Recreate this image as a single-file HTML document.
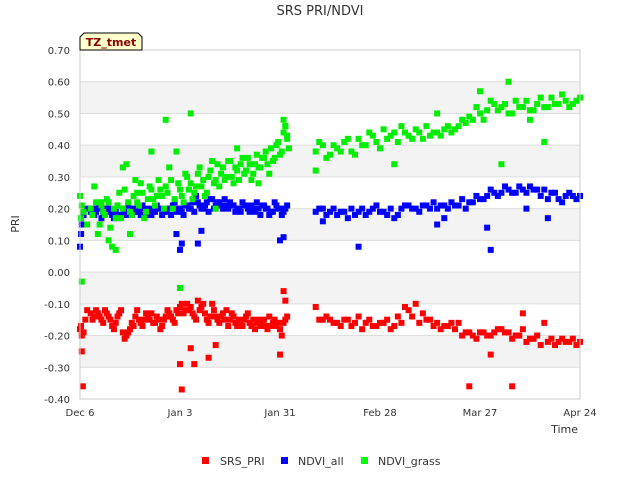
<!DOCTYPE html>
<html><head><meta charset="utf-8"><style>
body{margin:0;background:#fff;font-family:"Liberation Sans","DejaVu Sans",sans-serif;}
svg text{font-family:"DejaVu Sans","Liberation Sans",sans-serif;}
</style></head><body>
<svg id="chart" width="640" height="480" xmlns="http://www.w3.org/2000/svg">
<rect width="640" height="480" fill="#fff"/>
<g id="bands"></g><g id="grid"></g><g id="marks"></g><g id="axes"></g>
<text x="320" y="15" text-anchor="middle" font-size="13" fill="#333">SRS PRI/NDVI</text>
<text x="19" y="224" text-anchor="middle" font-size="11" fill="#333" transform="rotate(-90 19 224)">PRI</text>
<text x="578" y="433" text-anchor="end" font-size="11" fill="#333">Time</text>
<g>
<polygon points="84,33 138,33 142,37 142,50 80,50 80,37" fill="#ffffcc" stroke="#000" stroke-width="1"/>
<text x="111" y="46" text-anchor="middle" font-size="11" font-weight="bold" fill="#8b0000">TZ_tmet</text>
</g>
<g>
<g><rect x="202" y="457" width="7" height="7" fill="#f00"/><text x="220" y="465" font-size="11" fill="#333">SRS_PRI</text></g>
<g><rect x="281" y="457" width="7" height="7" fill="#00f"/><text x="298" y="465" font-size="11" fill="#333">NDVI_all</text></g>
<g><rect x="361" y="457" width="7" height="7" fill="#0f0"/><text x="378" y="465" font-size="11" fill="#333">NDVI_grass</text></g>
</g>
</svg>
<script>
const yTicks=[0.7,0.6,0.5,0.4,0.3,0.2,0.1,0,-0.1,-0.2,-0.3,-0.4];
const yTickLabels=["0.70","0.60","0.50","0.40","0.30","0.20","0.10","0.00","-0.10","-0.20","-0.30","-0.40"];
const xTickDays=[0,28,56,84,112,140];
const xTickLabels=["Dec 6","Jan 3","Jan 31","Feb 28","Mar 27","Apr 24"];
const priDays=[0,0.3,0.5,1,1.5,2,3,4,5,6,7,8,9,10,11,12,13,14,15,16,17,18,19,20,21,22,23,24,25,26,27,28,29,30,31,32,33,34,35,36,37,38,39,40,41,42,43,44,45,46,47,48,49,50,51,52,53,54,55,56,57,58,66,68,70,72,74,76,78,80,82,84,86,88,90,92,94,96,98,100,102,104,106,108,110,112,114,116,118,120,122,124,126,128,130,132,134,136,138,140,0.5,0.8,28,28.5,32,36,38,31,56,57,57.5,109,121,115,124];
const priVals=[-0.18,-0.17,-0.20,-0.19,-0.15,-0.12,-0.13,-0.14,-0.13,-0.15,-0.12,-0.14,-0.17,-0.16,-0.13,-0.19,-0.20,-0.18,-0.17,-0.12,-0.16,-0.15,-0.14,-0.13,-0.16,-0.15,-0.17,-0.14,-0.13,-0.15,-0.12,-0.11,-0.13,-0.10,-0.11,-0.14,-0.09,-0.11,-0.13,-0.16,-0.10,-0.14,-0.16,-0.13,-0.12,-0.15,-0.14,-0.17,-0.16,-0.15,-0.13,-0.17,-0.18,-0.15,-0.16,-0.17,-0.14,-0.16,-0.17,-0.18,-0.16,-0.14,-0.11,-0.15,-0.15,-0.16,-0.15,-0.17,-0.14,-0.16,-0.17,-0.16,-0.15,-0.17,-0.16,-0.12,-0.10,-0.13,-0.15,-0.16,-0.17,-0.16,-0.16,-0.19,-0.20,-0.19,-0.20,-0.19,-0.18,-0.19,-0.20,-0.18,-0.21,-0.20,-0.16,-0.21,-0.22,-0.22,-0.21,-0.22,-0.25,-0.36,-0.29,-0.37,-0.29,-0.27,-0.23,-0.24,-0.26,-0.06,-0.09,-0.36,-0.36,-0.26,-0.13];
const allDays=[0,0.3,0.5,1,2,3,4,5,6,7,8,9,10,11,12,13,14,15,16,17,18,19,20,21,22,23,24,25,26,27,28,29,30,31,32,33,34,35,36,37,38,39,40,41,42,43,44,45,46,47,48,49,50,51,52,53,54,55,56,57,58,66,68,70,72,74,76,78,80,82,84,86,88,90,92,94,96,98,100,102,104,106,108,110,112,114,116,118,120,122,124,126,128,130,132,134,136,138,140,28,28.5,27,33,34,56,57,78,115,114,102,131,125,68,100];
const allVals=[0.08,0.12,0.15,0.18,0.20,0.19,0.18,0.20,0.17,0.19,0.20,0.18,0.19,0.17,0.20,0.18,0.19,0.20,0.19,0.18,0.20,0.19,0.18,0.19,0.20,0.18,0.19,0.20,0.21,0.19,0.20,0.18,0.21,0.20,0.19,0.22,0.20,0.21,0.19,0.23,0.21,0.22,0.20,0.21,0.22,0.21,0.20,0.19,0.21,0.20,0.21,0.19,0.20,0.21,0.20,0.18,0.19,0.21,0.20,0.19,0.21,0.19,0.20,0.19,0.18,0.19,0.20,0.19,0.18,0.20,0.19,0.18,0.17,0.20,0.21,0.20,0.21,0.20,0.20,0.21,0.22,0.21,0.20,0.22,0.23,0.24,0.25,0.25,0.26,0.25,0.26,0.27,0.26,0.26,0.25,0.23,0.24,0.24,0.24,0.07,0.09,0.12,0.09,0.13,0.10,0.11,0.08,0.07,0.14,0.17,0.17,0.20,0.16,0.15];
const grassDays=[0,0.3,0.5,1,2,3,4,5,6,7,8,9,10,11,12,13,14,15,16,17,18,19,20,21,22,23,24,25,26,27,28,29,30,31,32,33,34,35,36,37,38,39,40,41,42,43,44,45,46,47,48,49,50,51,52,53,54,55,56,57,58,66,68,70,72,74,76,78,80,82,84,86,88,90,92,94,96,98,100,102,104,106,108,110,112,114,116,118,120,122,124,126,128,130,132,134,136,138,140,0.5,28,31,24,12,10,20,44,57,57.5,58,58.5,118,120,88,66,130,126,112,8,14,38,50,6,16,100];
const grassVals=[0.24,0.17,0.21,0.19,0.15,0.20,0.27,0.12,0.21,0.18,0.22,0.08,0.17,0.25,0.20,0.34,0.19,0.24,0.22,0.28,0.17,0.23,0.26,0.21,0.29,0.24,0.27,0.33,0.20,0.38,0.26,0.22,0.30,0.28,0.25,0.31,0.27,0.24,0.30,0.35,0.29,0.27,0.33,0.30,0.35,0.28,0.32,0.34,0.31,0.36,0.29,0.34,0.33,0.36,0.38,0.31,0.35,0.40,0.37,0.44,0.42,0.38,0.40,0.37,0.39,0.41,0.38,0.42,0.40,0.43,0.39,0.42,0.44,0.46,0.43,0.45,0.42,0.43,0.44,0.45,0.44,0.46,0.47,0.48,0.50,0.51,0.53,0.52,0.50,0.54,0.52,0.51,0.53,0.52,0.55,0.53,0.54,0.53,0.55,-0.03,-0.05,0.50,0.48,0.33,0.07,0.38,0.39,0.48,0.46,0.43,0.39,0.34,0.60,0.34,0.32,0.41,0.48,0.57,0.10,0.12,0.20,0.28,0.22,0.25,0.50];
const halfDays=[3.5,4.5,5.5,6.5,7.5,8.5,9.5,10.5,11.5,12.5,13.5,14.5,15.5,16.5,17.5,18.5,19.5,20.5,21.5,22.5,23.5,24.5,25.5,26.5,27.5,28.5,29.5,30.5,31.5,32.5,33.5,34.5,35.5,36.5,37.5,38.5,39.5,40.5,41.5,42.5,43.5,44.5,45.5,46.5,47.5,48.5,49.5,50.5,51.5,52.5,53.5,54.5,55.5,56.5,57.5];
const oddDays=[67,69,71,73,75,77,79,81,83,85,87,89,91,93,95,97,99,101,103,105,107,109,111,113,115,117,119,121,123,125,127,129,131,133,135,137,139];
const priHalf=[-0.15,-0.12,-0.14,-0.16,-0.13,-0.15,-0.18,-0.14,-0.12,-0.21,-0.19,-0.16,-0.14,-0.15,-0.17,-0.13,-0.15,-0.16,-0.14,-0.18,-0.15,-0.12,-0.14,-0.16,-0.13,-0.10,-0.12,-0.12,-0.13,-0.15,-0.12,-0.10,-0.15,-0.14,-0.12,-0.15,-0.14,-0.15,-0.17,-0.13,-0.16,-0.15,-0.17,-0.14,-0.16,-0.15,-0.16,-0.17,-0.15,-0.18,-0.17,-0.15,-0.16,-0.20,-0.15];
const priOdd=[-0.15,-0.14,-0.16,-0.17,-0.15,-0.16,-0.18,-0.15,-0.17,-0.16,-0.18,-0.14,-0.11,-0.14,-0.16,-0.15,-0.17,-0.18,-0.17,-0.18,-0.20,-0.19,-0.21,-0.19,-0.20,-0.18,-0.19,-0.21,-0.20,-0.22,-0.21,-0.23,-0.22,-0.23,-0.21,-0.22,-0.23];
const allHalf=[0.20,0.19,0.21,0.18,0.20,0.19,0.17,0.21,0.18,0.19,0.21,0.18,0.20,0.19,0.21,0.18,0.20,0.19,0.21,0.20,0.19,0.20,0.18,0.22,0.20,0.19,0.21,0.20,0.22,0.24,0.21,0.20,0.22,0.23,0.20,0.22,0.21,0.23,0.20,0.21,0.19,0.20,0.22,0.21,0.19,0.20,0.22,0.18,0.21,0.20,0.19,0.22,0.20,0.18,0.20];
const allOdd=[0.20,0.18,0.20,0.19,0.17,0.18,0.20,0.19,0.21,0.19,0.20,0.18,0.21,0.20,0.19,0.21,0.22,0.21,0.20,0.21,0.23,0.22,0.24,0.23,0.26,0.24,0.27,0.25,0.27,0.25,0.26,0.24,0.23,0.25,0.22,0.25,0.23];
const grassHalf=[0.18,0.22,0.15,0.19,0.23,0.14,0.20,0.21,0.17,0.26,0.22,0.18,0.29,0.21,0.25,0.19,0.27,0.23,0.24,0.26,0.20,0.25,0.29,0.23,0.28,0.24,0.31,0.26,0.23,0.27,0.33,0.29,0.25,0.32,0.28,0.34,0.31,0.29,0.35,0.30,0.33,0.29,0.36,0.32,0.34,0.31,0.37,0.33,0.36,0.34,0.39,0.36,0.41,0.38,0.46];
const grassOdd=[0.41,0.36,0.40,0.38,0.42,0.37,0.40,0.44,0.41,0.45,0.43,0.41,0.44,0.42,0.44,0.46,0.44,0.43,0.46,0.45,0.48,0.49,0.52,0.48,0.54,0.51,0.53,0.50,0.52,0.54,0.51,0.55,0.52,0.53,0.56,0.52,0.54];

const L=80,R=580,T=50,B=399,yMin=-0.4,yMax=0.7,dMax=140;
const xS=d=>L+d/dMax*(R-L);
const yS=v=>B-(v-yMin)/(yMax-yMin)*(B-T);
const NS="http://www.w3.org/2000/svg";
function mk(tag,attrs,parent){const e=document.createElementNS(NS,tag);for(const k in attrs)e.setAttribute(k,attrs[k]);parent.appendChild(e);return e;}
const bands=document.getElementById('bands'),grid=document.getElementById('grid'),marks=document.getElementById('marks'),axes=document.getElementById('axes');
for(let i=0;i<yTicks.length-1;i++){
  if(i%2===1){const r=mk('rect',{x:L,y:yS(yTicks[i]),width:R-L,height:yS(yTicks[i+1])-yS(yTicks[i]),fill:'#f3f3f3'},bands);
  
  }
}
yTicks.forEach((v,i)=>{
  const l=mk('line',{x1:L,x2:R,y1:yS(v),y2:yS(v),stroke:'#ddd','stroke-width':1},grid);
  
  
  const t=mk('text',{x:L-10,y:yS(v)+4,'text-anchor':'end','font-size':10,fill:'#333'},axes);
  
  
  t.textContent=yTickLabels[i];
});
xTickDays.forEach((d,i)=>{
  const t=mk('text',{x:xS(d),y:416,'text-anchor':'middle','font-size':10,fill:'#333'},axes);
  
  
  t.textContent=xTickLabels[i];
});
const fr=mk('rect',{x:L,y:T,width:R-L,height:B-T,fill:'none',stroke:'#ccc','stroke-width':1},axes);


function series(days,vals,color,name){
  const n=Math.min(days.length,vals.length);
  for(let i=0;i<n;i++){
    const r=mk('rect',{x:xS(days[i])-3,y:yS(vals[i])-3,width:6,height:6,fill:color},marks);
    
    
  }
}
series(priDays,priVals,'#ff0000','srs-pri-point');
series(halfDays,priHalf,'#ff0000','srs-pri-point');
series(oddDays,priOdd,'#ff0000','srs-pri-point');
series(allDays,allVals,'#0000ff','ndvi-all-point');
series(halfDays,allHalf,'#0000ff','ndvi-all-point');
series(oddDays,allOdd,'#0000ff','ndvi-all-point');
series(grassDays,grassVals,'#00ee00','ndvi-grass-point');
series(halfDays,grassHalf,'#00ee00','ndvi-grass-point');
series(oddDays,grassOdd,'#00ee00','ndvi-grass-point');
</script>
</body></html>
